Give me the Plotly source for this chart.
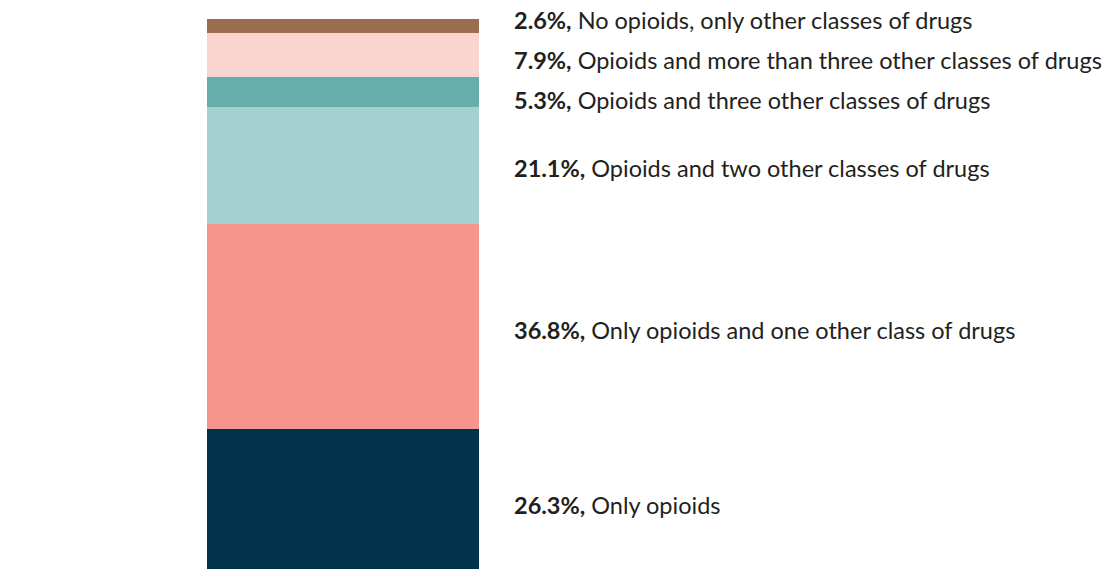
import plotly.graph_objects as go

# Share of drug-poisoning deaths by combination of drug classes involved
categories = [
    "Only opioids",
    "Only opioids and one other class of drugs",
    "Opioids and two other classes of drugs",
    "Opioids and three other classes of drugs",
    "Opioids and more than three other classes of drugs",
    "No opioids, only other classes of drugs",
]
shares = [26.3, 36.8, 21.1, 5.3, 7.9, 2.6]
colors = ["#01334c", "#f6958b", "#a4d0cf", "#66aeab", "#fad5d0", "#9c6d51"]

W, H = 1106, 569
y_top_px, px_per_unit = 18.5, 5.57          # 100% sits near the top edge, base falls below the frame
y_max = y_top_px / px_per_unit + 100
y_min = y_max - H / px_per_unit

fig = go.Figure()
for cat, val, col in zip(categories, shares, colors):
    fig.add_trace(go.Bar(
        x=[0], y=[val], name=cat, marker=dict(color=col, line=dict(width=0)),
        width=1, hoverinfo="skip",
    ))

# label positions: segment centres, spread apart where they would collide
centres = []
acc = 0.0
for v in shares:
    centres.append(acc + v / 2)
    acc += v
min_gap = 40 / px_per_unit
pos = list(centres)
changed = True
while changed:
    changed = False
    merged = [[0]]
    for i in range(1, len(pos)):
        if pos[i] - pos[merged[-1][-1]] < min_gap - 1e-9:
            merged[-1].append(i)
        else:
            merged.append([i])
    for g in merged:
        if len(g) > 1:
            mean = sum(centres[i] for i in g) / len(g)
            for k, i in enumerate(g):
                new = mean + (k - (len(g) - 1) / 2) * min_gap
                if abs(new - pos[i]) > 1e-9:
                    pos[i] = new
                    changed = True

for cat, val, p in zip(categories, shares, pos):
    fig.add_annotation(
        x=512 / W, xref="paper", y=p, yref="y", yshift=-3,
        text=f"<b>{val}%,</b> {cat}", showarrow=False,
        xanchor="left", yanchor="middle",
        font=dict(family="Lato, 'Open Sans', sans-serif", size=23.5, color="#231f20"),
    )

span = W / 272
x0 = -0.5 - 207 / 272
fig.update_layout(
    barmode="stack", width=W, height=H, showlegend=False,
    margin=dict(l=0, r=0, t=0, b=0),
    paper_bgcolor="white", plot_bgcolor="white",
    xaxis=dict(range=[x0, x0 + span], visible=False, fixedrange=True),
    yaxis=dict(range=[y_min, y_max], visible=False, fixedrange=True),
)
fig.write_html("out.html")
